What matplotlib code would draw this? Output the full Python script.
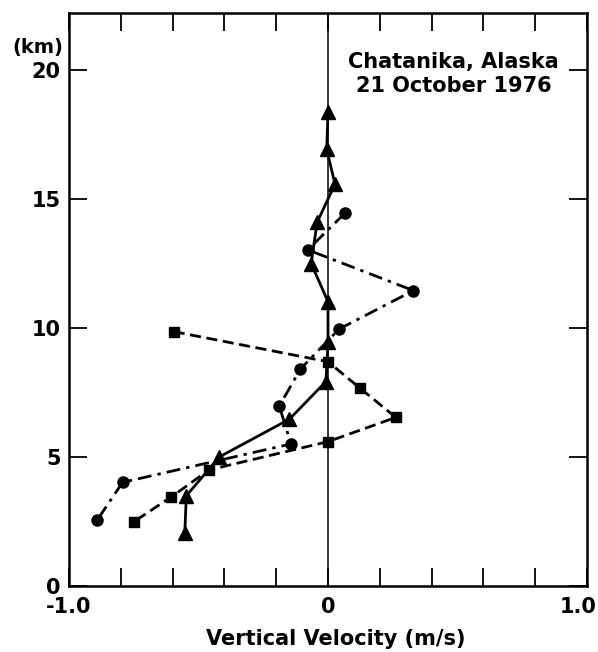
import matplotlib
matplotlib.use("Agg")
import matplotlib.pyplot as plt
from matplotlib.transforms import ScaledTranslation

# Triangles (solid line)
tri_x = [0.00, -0.005, 0.027, -0.042, -0.065, 0.00, 0.00, -0.008, -0.149, -0.419, -0.547, -0.553]
tri_y = [18.36, 16.93, 15.58, 14.10, 12.50, 11.02, 9.44, 7.92, 6.46, 5.00, 3.49, 2.03]

# Circles (dash-dot line)
cir_x = [0.065, -0.078, 0.33, 0.043, -0.107, -0.188, -0.143, -0.793, -0.891]
cir_y = [14.45, 13.03, 11.45, 9.96, 8.40, 6.97, 5.50, 4.01, 2.55]

# Squares (dashed line)
sq_x = [-0.596, 0.00, 0.124, 0.262, 0.00, -0.46, -0.607, -0.75]
sq_y = [9.86, 8.69, 7.66, 6.53, 5.59, 4.49, 3.43, 2.48]

xticks = [-1.0, -0.8, -0.6, -0.4, -0.2, 0.0, 0.2, 0.4, 0.6, 0.8, 1.0]
xticklabels = ['-1.0', '', '', '', '', '0', '', '', '', '', '1.0']
yticks = [0, 5, 10, 15, 20]
yticklabels = ['0', '5', '10', '15', '20']

plt.rcParams['font.family'] = ['DejaVu Sans']

fig = plt.figure(figsize=(5.98, 6.52), dpi=100)
ax = fig.add_axes([69/598, 1-585.7/652, (587-69)/598, (585.7-13)/652])
ax.set_xlim(-1, 1)
ax.set_ylim(0, 22.22)

ax.axvline(0, color='black', lw=1.1, zorder=1)

ax.plot(tri_x, tri_y, color='black', lw=2.0, marker='^', ms=9.5, linestyle='-', zorder=3)
ax.plot(cir_x, cir_y, color='black', lw=2.0, marker='o', ms=8, linestyle=(0, (5, 2.2, 1.2, 2.2)), zorder=3)
ax.plot(sq_x, sq_y, color='black', lw=2.0, marker='s', ms=7.5, linestyle=(0, (4, 2)), zorder=3)

ax.set_xticks(xticks)
ax.set_xticklabels(xticklabels)
ax.set_yticks(yticks)
ax.set_yticklabels(yticklabels)
ax.tick_params(direction='in', length=13, width=1.3, top=True, right=True,
               labelsize=15, pad=6)
ax.tick_params(axis='x', pad=8)
for lab in ax.get_xticklabels() + ax.get_yticklabels():
    lab.set_fontweight('bold')
last = ax.get_xticklabels()[-1]
last.set_horizontalalignment('right')
last.set_transform(last.get_transform() + ScaledTranslation(10/100, 0, fig.dpi_scale_trans))

ax.set_xlabel('Vertical Velocity (m/s)', fontsize=15, fontweight='bold', labelpad=10)
ax.xaxis.set_label_coords((336-69)/518, -0.075)
ax.xaxis.label.set_verticalalignment('top')

for s in ax.spines.values():
    s.set_linewidth(1.8)

ax.text(-0.012, 20.87, '(km)', transform=ax.get_yaxis_transform(), ha='right', va='center',
        fontsize=14, fontweight='bold')
ax.text(0.743, 0.8935, 'Chatanika, Alaska\n21 October 1976', transform=ax.transAxes,
        ha='center', va='center', fontsize=15, fontweight='bold', linespacing=1.3)

fig.savefig('out.png', dpi=100)
